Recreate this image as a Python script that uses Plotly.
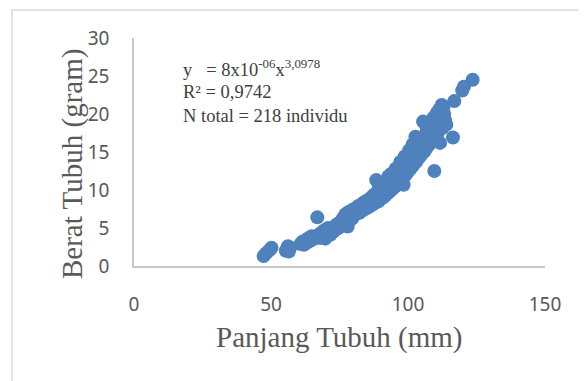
import plotly.graph_objects as go

# Data (Panjang Tubuh in mm, Berat Tubuh in gram)
panjang_mm = [
    47.3, 48.3, 49.5, 50.2, 55.4, 55.9, 56.5, 57.0, 56.2,
    60.8, 61.5, 62.0, 62.6, 63.2, 63.8, 64.3, 64.8, 65.3,
    66.0, 66.9, 67.4, 67.9, 68.5, 69.0, 69.5, 69.8, 70.3, 70.8, 71.2, 71.7, 72.2,
    72.7, 73.2, 73.6, 74.1, 74.5, 75.0, 75.4, 75.9,
    76.3, 76.8, 77.2, 77.6, 78.0, 78.3, 78.7, 79.1, 79.5, 79.8,
    80.2, 80.5, 80.9, 81.2, 81.6, 81.9, 82.3, 82.6, 83.0, 83.3, 83.7, 84.0, 84.3, 84.7, 85.0,
    85.3, 85.6, 85.9, 86.2, 86.5, 86.8, 87.1, 87.4, 87.7, 88.0, 88.4, 88.6, 88.9, 89.2, 89.5, 89.8, 90.0,
    90.3, 90.6, 90.9, 91.2, 91.5, 91.8, 92.1, 92.4, 92.7, 93.0, 93.3, 93.6, 93.9, 94.2, 94.5, 94.8, 95.0,
    95.3, 95.6, 95.9, 96.2, 96.5, 96.8, 97.1, 97.4, 97.7, 98.0, 98.4, 98.6, 98.9, 99.2, 99.5, 99.8, 100.0,
    100.3, 100.6, 100.9, 101.2, 101.5, 101.8, 102.1, 102.4, 102.7, 103.0, 103.3, 103.6, 103.9, 104.2, 104.5, 104.8,
    105.1, 105.5, 105.7, 106.0, 106.3, 106.6, 106.9, 107.2, 107.5, 107.8, 108.1, 108.4, 108.7, 109.0, 109.3, 109.6, 109.9, 110.2,
    110.5, 110.8, 111.1, 111.4, 111.7, 112.0, 112.3, 112.7, 113.2, 114.0, 116.4, 116.9, 119.8, 120.4, 123.6,
    80.7, 82.0, 83.5, 84.9, 86.0, 87.2, 88.2, 89.4, 90.5, 91.0,
    91.9, 92.9, 93.8, 94.6, 95.5, 96.4, 97.2, 97.9, 98.8, 99.6,
    100.4, 101.0, 101.7, 102.3, 103.1, 103.8, 104.4, 105.0, 105.9, 106.5,
    107.0, 107.6, 108.2, 108.9, 109.5, 110.0, 110.6, 111.2, 111.9, 112.5,
    113.0, 113.5, 76.0, 77.0, 78.5, 79.3, 74.8, 73.0, 71.0, 69.2,
    67.0, 63.0, 61.2, 106.8,
]
berat_g = [
    1.3, 1.7, 2.1, 2.4, 2.0, 2.3, 1.9, 2.4, 2.6,
    2.9, 3.2, 2.8, 3.4, 3.1, 3.7, 3.3, 3.9, 3.5,
    3.8, 6.4, 4.1, 3.7, 4.4, 3.9, 4.7, 3.6, 4.3, 5.0, 4.5, 4.1, 4.9,
    4.5, 5.2, 4.8, 5.5, 5.0, 5.7, 5.2, 5.9,
    6.3, 5.6, 6.8, 6.0, 5.2, 7.1, 6.4, 6.9, 6.2, 7.4,
    6.6, 7.1, 7.6, 6.9, 7.3, 7.9, 7.0, 7.6, 8.1, 7.3, 7.8, 8.4, 7.5, 8.0, 8.6,
    7.7, 8.2, 8.8, 7.9, 8.5, 9.1, 8.1, 8.7, 9.4, 8.3, 11.3, 9.0, 9.7, 8.5, 9.3, 10.0, 8.8,
    9.5, 10.2, 9.0, 9.8, 10.5, 9.3, 10.1, 10.9, 9.6, 10.4, 11.2, 9.9, 10.7, 11.5, 10.2, 11.0, 11.8,
    10.5, 11.4, 12.3, 10.9, 11.8, 12.8, 11.2, 12.2, 13.3, 11.6, 10.7, 12.6, 13.6, 12.0, 13.0, 13.9, 12.4,
    13.4, 14.3, 12.8, 13.8, 14.8, 13.2, 14.3, 15.4, 17.0, 13.7, 14.8, 15.9, 14.2, 15.3, 16.5, 14.6,
    15.7, 19.0, 16.9, 15.1, 16.3, 17.5, 15.6, 16.8, 18.1, 16.0, 17.3, 18.7, 16.5, 17.8, 19.5, 12.5, 16.9, 18.3,
    20.1, 17.4, 18.9, 20.6, 16.2, 19.5, 21.2, 18.2, 20.0, 18.6, 16.9, 21.7, 23.1, 23.6, 24.5,
    7.3, 7.4, 7.7, 8.2, 8.4, 8.9, 8.8, 10.5, 9.6, 11.0,
    9.9, 11.8, 12.1, 10.9, 12.8, 11.6, 13.7, 12.4, 14.4, 13.3,
    15.2, 13.5, 16.0, 14.6, 15.1, 15.0, 15.6, 16.1, 16.5, 17.0,
    17.2, 17.0, 16.6, 18.4, 17.2, 19.0, 18.6, 19.7, 20.4, 19.3,
    21.0, 19.2, 6.0, 6.3, 6.7, 6.6, 5.4, 5.0, 4.7, 4.2,
    4.0, 3.4, 3.0, 18.3,
]

x_ticks = [0, 50, 100, 150]
y_ticks = [0, 5, 10, 15, 20, 25, 30]

eq_line1 = "y   = 8x10<sup>-06</sup>x<sup>3,0978</sup>"
eq_line2 = "R² = 0,9742"
eq_line3 = "N total = 218 individu"

# The page body has an 8px margin, so screen position = figure position + 8.
OFF = 8
W, H = 586, 381
L, T = 134 - OFF, 38 - OFF
R = W - (545 - OFF)
B = H - (266 - OFF)
PW, PH = W - L - R, H - T - B


def px(x):
    return (x - OFF - L) / PW


def py(y):
    return (H - B - (y - OFF)) / PH


fig = go.Figure()
fig.add_trace(go.Scatter(
    x=panjang_mm, y=berat_g, mode="markers",
    marker=dict(size=14, color="#4F81BD", line=dict(width=0)),
    showlegend=False, hoverinfo="x+y",
))

tickfont = dict(family="Noto Sans", size=19, color="#595959")
fig.update_xaxes(range=[0, 150], tickvals=x_ticks, showgrid=False, zeroline=False,
                 showline=True, linecolor="#C8C8C8", linewidth=1.5, ticks="",
                 tickfont=tickfont, ticklabelstandoff=20, fixedrange=True)
fig.update_yaxes(range=[0, 30], tickvals=y_ticks, showgrid=False, zeroline=False,
                 showline=True, linecolor="#C8C8C8", linewidth=1.5, ticks="",
                 tickfont=tickfont, ticklabelstandoff=19, fixedrange=True)

serif = "Liberation Serif"
annos = [
    dict(text="Panjang Tubuh (mm)", x=px(339), y=py(337), xanchor="center", yanchor="middle",
         font=dict(family=serif, size=29, color="#595959")),
    dict(text="Berat Tubuh (gram)", x=px(72), y=py(164), xanchor="center", yanchor="middle",
         textangle=-90, font=dict(family=serif, size=29, color="#595959")),
    dict(text=eq_line1, x=px(181), y=py(68), xanchor="left", yanchor="middle",
         font=dict(family=serif, size=18.5, color="#404040")),
    dict(text=eq_line2, x=px(181), y=py(92), xanchor="left", yanchor="middle",
         font=dict(family=serif, size=18.5, color="#404040")),
    dict(text=eq_line3, x=px(181), y=py(116), xanchor="left", yanchor="middle",
         font=dict(family=serif, size=18.5, color="#404040")),
]
for a in annos:
    a.update(xref="paper", yref="paper", showarrow=False)

fig.update_layout(
    width=W, height=H,
    margin=dict(l=L, r=R, t=T, b=B),
    paper_bgcolor="white", plot_bgcolor="white",
    annotations=annos,
    shapes=[dict(type="rect", xref="paper", yref="paper",
                 x0=px(12), x1=px(640), y0=py(440), y1=py(10),
                 line=dict(color="#D9D9D9", width=1.5), layer="below")],
)

fig.write_html("out.html")
